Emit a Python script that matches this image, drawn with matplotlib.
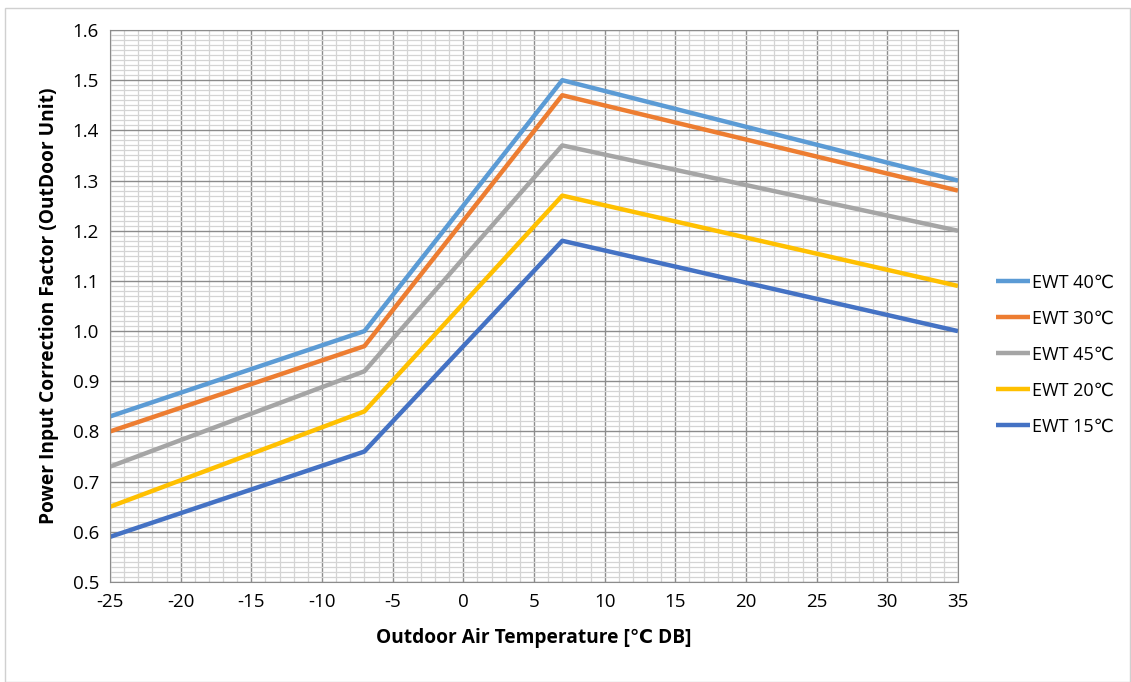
import matplotlib.pyplot as plt
import numpy as np
from matplotlib.patches import Rectangle

plt.rcParams['font.family'] = ['Open Sans', 'DejaVu Sans']
plt.rcParams['axes.unicode_minus'] = False

# Data
temps = [-25, -7, 7, 35]
ewt40 = [0.83, 1.00, 1.50, 1.30]
ewt30 = [0.80, 0.97, 1.47, 1.28]
ewt45 = [0.73, 0.92, 1.37, 1.20]
ewt20 = [0.65, 0.84, 1.27, 1.09]
ewt15 = [0.59, 0.76, 1.18, 1.00]
labels = ["EWT 40℃", "EWT 30℃", "EWT 45℃", "EWT 20℃", "EWT 15℃"]
colors = ["#5B9BD5", "#ED7D31", "#A5A5A5", "#FFC000", "#4472C4"]

fig = plt.figure(figsize=(11.31, 6.82), dpi=100)
ax = fig.add_axes([0.0973, 0.1466, 0.7497, 0.8094])

# Light border around the whole figure
fig.patches.append(Rectangle((0.004, 0.0), 0.995, 0.988, transform=fig.transFigure,
                             fill=False, edgecolor="#D0D0D0", linewidth=1))

for y, lab, c in zip([ewt40, ewt30, ewt45, ewt20, ewt15], labels, colors):
    ax.plot(temps, y, color=c, linewidth=3.2, label=lab, solid_capstyle="butt")

ax.set_xlim(-25, 35)
ax.set_ylim(0.5, 1.6)
ax.set_xticks(np.arange(-25, 36, 5))
ax.set_xticks(np.arange(-25, 36, 1), minor=True)
ax.set_yticks(np.arange(0.5, 1.61, 0.1))
ax.set_yticks(np.arange(0.5, 1.6, 0.01), minor=True)
ax.set_yticklabels([f"{v:.1f}" for v in np.arange(0.5, 1.61, 0.1)])
ax.grid(which="major", color="#8C8C8C", linewidth=1)
ax.grid(which="minor", color="#D4D4D4", linewidth=0.9)
ax.set_axisbelow(True)
ax.tick_params(which="both", length=0, labelsize=13.5, pad=8)
for s in ax.spines.values():
    s.set_color("#8C8C8C")

ax.set_xlabel("Outdoor Air Temperature [℃ DB]", fontsize=13.8, fontweight="bold", labelpad=12)
ax.set_ylabel("Power Input Correction Factor (OutDoor Unit)", fontsize=13.8, fontweight="bold", labelpad=10)

ax.legend(loc="center left", bbox_to_anchor=(0.866, 0.48), bbox_transform=fig.transFigure,
          frameon=False, fontsize=13, handlelength=1.9, handletextpad=0.1,
          labelspacing=1.0)

fig.savefig("out.png", dpi=100)
